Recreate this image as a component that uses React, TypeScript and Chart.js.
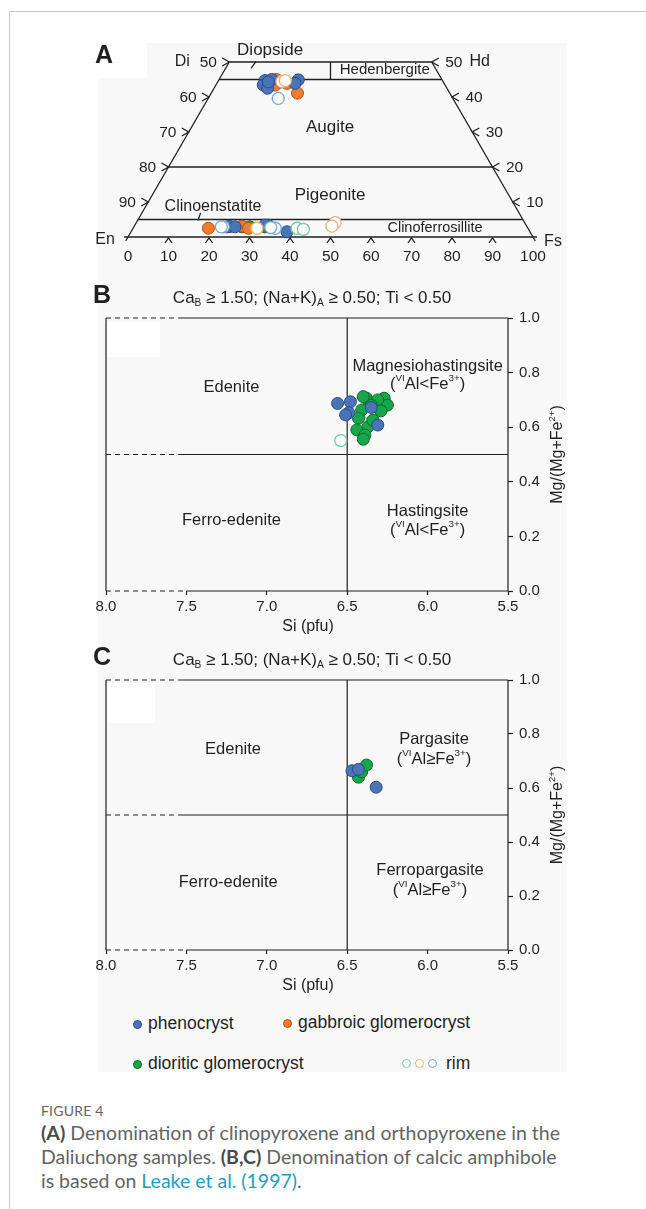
import React, { useEffect, useRef } from "react";
import { Chart, registerables } from "chart.js";

Chart.register(...registerables);

const FONT = "Arial, 'Liberation Sans', Helvetica, sans-serif";
const INK = "#1f1f1f";

// Sample groups: 0 phenocryst, 1 gabbroic glomerocryst, 2 dioritic glomerocryst
const GROUP_NAMES = ["phenocryst", "gabbroic glomerocryst", "dioritic glomerocryst"];
const GROUP_FILL = ["#4a74b8", "#ef7d2d", "#17a64a"];
const GROUP_EDGE = ["#2b4c85", "#a8531b", "#0b6a2b"];
const RIM_EDGE = ["#74a8da", "#f2ae76", "#72cb9e"];

// ---- (A) pyroxene compositions, Wo–En–Fs (mol%) ----
const pxPhenoWo = [44.7, 43.4, 42.5, 44.9, 43.9, 45.0, 44.3, 2.9, 3.0, 2.9, 3.4, 1.5];
const pxPhenoEn = [43.8, 44.9, 44.3, 35.5, 36.8, 42.0, 43.2, 74.1, 73.3, 72.1, 64.5, 60.0];
const pxPhenoFs = [11.5, 11.7, 13.2, 19.6, 19.3, 13.0, 12.5, 23.0, 23.7, 25.0, 32.1, 38.5];

const pxGabbroWo = [45.0, 43.4, 43.9, 41.1, 44.3, 2.5, 3.1, 2.5];
const pxGabbroEn = [40.8, 42.0, 38.8, 37.6, 40.0, 78.9, 70.3, 69.0];
const pxGabbroFs = [14.2, 14.6, 17.3, 21.3, 15.7, 18.6, 26.6, 28.5];

const pxDioriteWo = [43.9, 44.2, 2.9, 2.9, 2.9, 3.4];
const pxDioriteEn = [41.5, 40.8, 70.4, 68.5, 64.7, 63.7];
const pxDioriteFs = [14.6, 15.0, 26.7, 28.6, 32.4, 32.9];

const pxRimGroup = [1, 1, 0, 0, 0, 1, 0, 0, 2, 2, 1, 1];
const pxRimWo = [44.4, 44.7, 39.6, 2.9, 2.9, 2.5, 2.5, 2.7, 2.5, 2.2, 4.1, 3.1];
const pxRimEn = [39.8, 38.8, 43.1, 75.0, 75.5, 66.9, 62.4, 63.4, 57.0, 55.6, 46.8, 48.1];
const pxRimFs = [15.8, 16.5, 17.3, 22.1, 21.6, 30.6, 35.1, 33.9, 40.5, 42.2, 49.1, 48.8];

// quadrilateral field boundaries (Wo) and edge ticks
const PYX_BOUNDS = [45, 20, 5];
const PYX_SIDE_TICKS = [50, 40, 30, 20, 10];
const PYX_BASE_TICKS = [0, 10, 20, 30, 40, 50, 60, 70, 80, 90, 100];

// ---- (B) calcic amphibole, VIAl < Fe3+ : Si (pfu), Mg/(Mg+Fe2+) ----
const amB_PhenoSi = [6.56, 6.48, 6.49, 6.51, 6.31, 6.35];
const amB_PhenoMg = [0.687, 0.693, 0.653, 0.645, 0.608, 0.672];
const amB_DioriteSi = [6.38, 6.27, 6.25, 6.41, 6.43, 6.44, 6.37, 6.39, 6.34, 6.31, 6.40, 6.40, 6.35, 6.29];
const amB_DioriteMg = [0.706, 0.706, 0.681, 0.663, 0.633, 0.59, 0.602, 0.571, 0.626, 0.7, 0.712, 0.556, 0.68, 0.66];
const amB_RimGroup = [2, 2, 2, 2];
const amB_RimSi = [6.36, 6.3, 6.28, 6.54];
const amB_RimMg = [0.651, 0.669, 0.675, 0.551];

// ---- (C) calcic amphibole, VIAl ≥ Fe3+ ----
const amC_PhenoSi = [6.47, 6.43, 6.32];
const amC_PhenoMg = [0.664, 0.669, 0.603];
const amC_DioriteSi = [6.43, 6.41, 6.38];
const amC_DioriteMg = [0.64, 0.66, 0.685];

const SI_TICKS_STEP = 0.5;
const MG_TICKS_STEP = 0.2;
const MARK_R = 6;

type Seg = [string, "n" | "sub" | "sup"];
type FieldLabel = { at: [number, number]; segs: Seg[] };

const T = (s: string): Seg[] => [[s, "n"]];
const alLessFe: Seg[] = [["(", "n"], ["VI", "sup"], ["Al<Fe", "n"], ["3+", "sup"], [")", "n"]];
const alGeFe: Seg[] = [["(", "n"], ["VI", "sup"], ["Al≥Fe", "n"], ["3+", "sup"], [")", "n"]];
const criteria: Seg[] = [
  ["Ca", "n"], ["B", "sub"], [" ≥ 1.50; (Na+K)", "n"], ["A", "sub"], [" ≥ 0.50; Ti < 0.50", "n"],
];
const mgTitle: Seg[] = [["Mg/(Mg+Fe", "n"], ["2+", "sup"], [")", "n"]];

const B_FIELDS: FieldLabel[] = [
  { at: [7.22, 0.747], segs: T("Edenite") },
  { at: [6.0, 0.824], segs: T("Magnesiohastingsite") },
  { at: [6.0, 0.755], segs: alLessFe },
  { at: [7.22, 0.26], segs: T("Ferro-edenite") },
  { at: [6.0, 0.293], segs: T("Hastingsite") },
  { at: [6.0, 0.223], segs: alLessFe },
];
const C_FIELDS: FieldLabel[] = [
  { at: [7.21, 0.741], segs: T("Edenite") },
  { at: [5.96, 0.778], segs: T("Pargasite") },
  { at: [5.96, 0.704], segs: alGeFe },
  { at: [7.24, 0.252], segs: T("Ferro-edenite") },
  { at: [5.985, 0.296], segs: T("Ferropargasite") },
  { at: [5.985, 0.219], segs: alGeFe },
];

function setFont(ctx: CanvasRenderingContext2D, size: number, bold = false) {
  ctx.font = `${bold ? "bold " : ""}${size}px ${FONT}`;
}

function drawRich(ctx: CanvasRenderingContext2D, segs: Seg[], x: number, y: number, size: number, align: "center" | "left" = "center") {
  const small = size * 0.6;
  const parts = segs.map(([t, k]) => {
    const s = k === "n" ? size : small;
    setFont(ctx, s);
    return { t, k, s, w: ctx.measureText(t).width };
  });
  const total = parts.reduce((a, p) => a + p.w, 0);
  let cx = align === "center" ? x - total / 2 : x;
  ctx.textAlign = "left";
  ctx.textBaseline = "middle";
  for (const p of parts) {
    setFont(ctx, p.s);
    const dy = p.k === "sup" ? -size * 0.38 : p.k === "sub" ? size * 0.3 : 0;
    ctx.fillText(p.t, cx, y + dy);
    cx += p.w;
  }
}

function seg(ctx: CanvasRenderingContext2D, x1: number, y1: number, x2: number, y2: number, dash: number[] = []) {
  ctx.setLineDash(dash);
  ctx.beginPath();
  ctx.moveTo(x1, y1);
  ctx.lineTo(x2, y2);
  ctx.stroke();
}

function pyxPoints(wo: number[], en: number[], fs: number[]) {
  return wo.map((w, i) => {
    const sum = w + en[i] + fs[i];
    return { x: ((fs[i] + w / 2) / sum) * 100, y: (w / sum) * 100 };
  });
}
function xyPoints(xs: number[], ys: number[]) {
  return xs.map((x, i) => ({ x, y: ys[i] }));
}

function solidSet(data: any[], g: number, r: number) {
  return {
    data,
    pointRadius: r,
    pointHoverRadius: r,
    pointBackgroundColor: GROUP_FILL[g],
    pointBorderColor: GROUP_EDGE[g],
    pointBorderWidth: 1,
    showLine: false,
    clip: false as any,
  };
}
function rimSet(data: any[], groups: number[], r: number) {
  return {
    data,
    pointRadius: r,
    pointHoverRadius: r,
    pointBackgroundColor: "#ffffff",
    pointBorderColor: groups.map((g) => RIM_EDGE[g]),
    pointBorderWidth: 1.3,
    showLine: false,
    clip: false as any,
  };
}

// Pyroxene quadrilateral frame, ticks and field names
const pyxFrame = {
  id: "pyxFrame",
  beforeDatasetsDraw(chart: any) {
    const { ctx } = chart;
    const px = (v: number) => chart.scales.x.getPixelForValue(v);
    const py = (v: number) => chart.scales.y.getPixelForValue(v);
    ctx.save();
    ctx.strokeStyle = INK;
    ctx.fillStyle = INK;
    ctx.lineWidth = 1.3;

    // outline
    const slope = (px(25) - px(0)) / (py(0) - py(50));
    seg(ctx, px(0) - 4, py(0), px(100) + 4, py(0));
    seg(ctx, px(0) - 4 * slope, py(0) + 4, px(25), py(50));
    seg(ctx, px(100) + 4 * slope, py(0) + 4, px(75), py(50));
    seg(ctx, px(25), py(50), px(75), py(50));
    for (const w of PYX_BOUNDS) seg(ctx, px(w / 2), py(w), px(100 - w / 2), py(w));
    seg(ctx, px(50), py(45), px(50), py(50));

    // leader strokes for Diopside / Clinoenstatite
    const dx = px(31), dy = py(49.2);
    seg(ctx, dx - 2.5, dy + 3.5, dx + 2.5, dy - 3.5);
    const cx = px(17.6), cy = py(5.8);
    seg(ctx, cx - 1.3, cy + 3.8, cx + 1.3, cy - 3.8);

    // edge ticks
    for (const w of PYX_SIDE_TICKS) {
      const lx = px(w / 2), rx = px(100 - w / 2), y = py(w);
      ctx.setLineDash([]);
      ctx.beginPath();
      ctx.moveTo(lx - 7, y - 4); ctx.lineTo(lx, y); ctx.lineTo(lx - 7, y + 4);
      ctx.moveTo(rx + 7, y - 4); ctx.lineTo(rx, y); ctx.lineTo(rx + 7, y + 4);
      ctx.stroke();
      setFont(ctx, 15.5);
      ctx.textAlign = "center";
      ctx.textBaseline = "middle";
      ctx.fillText(String(100 - w), lx - 21, y + 1);
      ctx.fillText(String(w), rx + 22, y + 1);
    }
    for (const v of PYX_BASE_TICKS) {
      const x = px(v), y = py(0);
      if (v > 0 && v < 100) {
        ctx.beginPath();
        ctx.moveTo(x - 3.5, y + 6); ctx.lineTo(x, y + 1); ctx.lineTo(x + 3.5, y + 6);
        ctx.stroke();
      }
      setFont(ctx, 15.5);
      ctx.textAlign = "center";
      ctx.textBaseline = "middle";
      ctx.fillText(String(v), x, y + 20);
    }

    // corner names
    setFont(ctx, 16);
    ctx.textAlign = "center";
    ctx.fillText("Di", px(25) - 47, py(50));
    ctx.fillText("Hd", px(75) + 48, py(50));
    ctx.fillText("En", px(0) - 23, py(0) + 3);
    ctx.fillText("Fs", px(100) + 20, py(0) + 5);

    // field names
    setFont(ctx, 17);
    ctx.fillText("Diopside", px(35.1), py(53.4));
    ctx.fillText("Augite", px(49.9), py(31.4));
    ctx.fillText("Pigeonite", px(49.9), py(12));
    setFont(ctx, 16);
    ctx.fillText("Clinoenstatite", px(21), py(8.6));
    setFont(ctx, 15);
    ctx.fillText("Hedenbergite", px(63.4), py(47.7));
    setFont(ctx, 14.5);
    ctx.fillText("Clinoferrosillite", px(75.8), py(2.6));

    // panel letter
    setFont(ctx, 25, true);
    ctx.fillText("A", 104, 56);
    ctx.restore();
  },
};

function amphFrame(letter: string, fields: FieldLabel[]) {
  return {
    id: "amphFrame" + letter,
    beforeDatasetsDraw(chart: any) {
      const { ctx, chartArea: a } = chart;
      const X = (v: number) => chart.scales.x.getPixelForValue(v);
      const Y = (v: number) => chart.scales.y.getPixelForValue(v);
      ctx.save();
      ctx.strokeStyle = INK;
      ctx.fillStyle = INK;
      ctx.lineWidth = 1.2;
      const dash = [5, 4];
      seg(ctx, X(8), Y(1), X(7.55), Y(1), dash);
      seg(ctx, X(7.55), Y(1), X(5.5), Y(1));
      seg(ctx, X(8), Y(0.5), X(7.55), Y(0.5), dash);
      seg(ctx, X(7.55), Y(0.5), X(5.5), Y(0.5));
      seg(ctx, X(8), Y(0), X(7.5), Y(0), dash);
      seg(ctx, X(7.5), Y(0), X(5.5), Y(0));
      seg(ctx, X(8), Y(1), X(8), Y(0));
      seg(ctx, X(5.5), Y(1), X(5.5), Y(0));
      seg(ctx, X(6.5), Y(1), X(6.5), Y(0));
      ctx.setLineDash([]);

      for (const f of fields) drawRich(ctx, f.segs, X(f.at[0]), Y(f.at[1]), 16.5);

      drawRich(ctx, criteria, (a.left + a.right) / 2 + 5, a.top - 20, 17);

      setFont(ctx, 16);
      ctx.textAlign = "center";
      ctx.textBaseline = "middle";
      ctx.fillText("Si (pfu)", (a.left + a.right) / 2 + 1, a.bottom + 36);

      ctx.save();
      ctx.translate(a.right + 50, (a.top + a.bottom) / 2);
      ctx.rotate(-Math.PI / 2);
      drawRich(ctx, mgTitle, 0, 0, 16);
      ctx.restore();

      setFont(ctx, 25, true);
      ctx.textAlign = "center";
      ctx.textBaseline = "middle";
      ctx.fillText(letter, 102, a.top - 22);
      ctx.restore();
    },
  };
}

function amphOptions(padTop: number, padBottom: number) {
  const tickFont = { family: FONT, size: 15 };
  return {
    animation: false as const,
    responsive: false,
    maintainAspectRatio: false,
    events: [] as any[],
    layout: { autoPadding: false, padding: { left: 106, right: 88, top: padTop, bottom: padBottom } },
    plugins: { legend: { display: false }, tooltip: { enabled: false } },
    scales: {
      x: {
        type: "linear" as const,
        position: "bottom" as const,
        reverse: true,
        min: 5.5,
        max: 8.0,
        afterFit: (s: any) => { s.height = 30; },
        border: { display: false },
        grid: { drawOnChartArea: false, drawTicks: true, tickLength: 4, tickColor: INK, tickWidth: 1.2, color: INK },
        ticks: { stepSize: SI_TICKS_STEP, callback: (v: any) => Number(v).toFixed(1), font: tickFont, color: INK, padding: 3, maxRotation: 0, minRotation: 0, autoSkip: false },
      },
      y: {
        type: "linear" as const,
        position: "right" as const,
        min: 0,
        max: 1,
        afterFit: (s: any) => { s.width = 50; },
        border: { display: false },
        grid: { drawOnChartArea: false, drawTicks: true, tickLength: 5, tickColor: INK, tickWidth: 1.2, color: INK },
        ticks: { stepSize: MG_TICKS_STEP, callback: (v: any) => Number(v).toFixed(1), font: tickFont, color: INK, padding: 6, autoSkip: false },
      },
    },
  };
}

function PyroxeneChart() {
  const ref = useRef<HTMLCanvasElement>(null);
  useEffect(() => {
    const chart = new Chart(ref.current!, {
      type: "scatter",
      data: {
        datasets: [
          rimSet(pyxPoints(pxRimWo, pxRimEn, pxRimFs), pxRimGroup, MARK_R),
          solidSet(pyxPoints(pxPhenoWo, pxPhenoEn, pxPhenoFs), 0, MARK_R),
          solidSet(pyxPoints(pxGabbroWo, pxGabbroEn, pxGabbroFs), 1, MARK_R),
          solidSet(pyxPoints(pxDioriteWo, pxDioriteEn, pxDioriteFs), 2, MARK_R),
        ] as any,
      },
      options: {
        animation: false,
        responsive: false,
        maintainAspectRatio: false,
        events: [],
        layout: { autoPadding: false, padding: { left: 128, right: 113, top: 62, bottom: 38 } },
        plugins: { legend: { display: false }, tooltip: { enabled: false } },
        scales: {
          x: { type: "linear", min: 0, max: 100, display: false },
          y: { type: "linear", min: 0, max: 50, display: false },
        },
      } as any,
      plugins: [pyxFrame],
    });
    return () => chart.destroy();
  }, []);
  return <canvas ref={ref} width={646} height={275} style={{ position: "absolute", left: 0, top: 0, width: 646, height: 275 }} />;
}

function AmphiboleB() {
  const ref = useRef<HTMLCanvasElement>(null);
  useEffect(() => {
    const chart = new Chart(ref.current!, {
      type: "scatter",
      data: {
        datasets: [
          solidSet(xyPoints(amB_PhenoSi, amB_PhenoMg), 0, MARK_R),
          solidSet(xyPoints(amB_DioriteSi, amB_DioriteMg), 2, MARK_R),
          rimSet(xyPoints(amB_RimSi, amB_RimMg), amB_RimGroup, MARK_R),
        ] as any,
      },
      options: amphOptions(38, 19) as any,
      plugins: [amphFrame("B", B_FIELDS)],
    });
    return () => chart.destroy();
  }, []);
  return <canvas ref={ref} width={646} height={360} style={{ position: "absolute", left: 0, top: 280, width: 646, height: 360 }} />;
}

function AmphiboleC() {
  const ref = useRef<HTMLCanvasElement>(null);
  useEffect(() => {
    const chart = new Chart(ref.current!, {
      type: "scatter",
      data: {
        datasets: [
          solidSet(xyPoints(amC_PhenoSi, amC_PhenoMg), 0, MARK_R),
          solidSet(xyPoints(amC_DioriteSi, amC_DioriteMg), 2, MARK_R),
        ] as any,
      },
      options: amphOptions(40, 20) as any,
      plugins: [amphFrame("C", C_FIELDS)],
    });
    return () => chart.destroy();
  }, []);
  return <canvas ref={ref} width={646} height={360} style={{ position: "absolute", left: 0, top: 640, width: 646, height: 360 }} />;
}

function Dot({ x, y, fill, edge }: { x: number; y: number; fill: string; edge: string }) {
  return (
    <div
      style={{
        position: "absolute", left: x - 4.5, top: y - 4.5, width: 9, height: 9,
        boxSizing: "border-box", borderRadius: "50%", background: fill, border: `1px solid ${edge}`,
      }}
    />
  );
}

function LegendText({ x, y, text }: { x: number; y: number; text: string }) {
  return (
    <div style={{ position: "absolute", left: x, top: y - 11, height: 22, lineHeight: "22px", font: `17.5px ${FONT}`, color: INK, whiteSpace: "nowrap" }}>
      {text}
    </div>
  );
}

export default function App() {
  const abs = (l: number, t: number, w: number, h: number, bg: string): React.CSSProperties => ({
    position: "absolute", left: l, top: t, width: w, height: h, background: bg,
  });
  return (
    <div style={{ position: "absolute", left: 0, top: 0, width: 646, height: 1209, background: "#fff", overflow: "hidden" }}>
      <div style={abs(9, 11, 637, 1, "#c9c9c9")} />
      <div style={abs(9, 11, 1, 1198, "#c9c9c9")} />
      <div style={abs(98, 43, 469, 1029, "#f8f8f8")} />
      <div style={abs(98, 43, 49, 35, "#ffffff")} />
      <div style={abs(107, 322, 53, 35, "#ffffff")} />
      <div style={abs(108, 683, 47, 40, "#ffffff")} />

      <PyroxeneChart />
      <AmphiboleB />
      <AmphiboleC />

      <Dot x={137} y={1024} fill={GROUP_FILL[0]} edge={GROUP_EDGE[0]} />
      <LegendText x={148} y={1024} text={GROUP_NAMES[0]} />
      <Dot x={287} y={1023} fill={GROUP_FILL[1]} edge={GROUP_EDGE[1]} />
      <LegendText x={298} y={1023} text={GROUP_NAMES[1]} />
      <Dot x={137} y={1064} fill={GROUP_FILL[2]} edge={GROUP_EDGE[2]} />
      <LegendText x={148} y={1064} text={GROUP_NAMES[2]} />
      <Dot x={406} y={1063} fill="#fff" edge={RIM_EDGE[2]} />
      <Dot x={419} y={1063} fill="#fff" edge={RIM_EDGE[1]} />
      <Dot x={432} y={1063} fill="#fff" edge={RIM_EDGE[0]} />
      <LegendText x={446} y={1064} text="rim" />

      <div style={{ position: "absolute", left: 41, top: 1101, width: 600, fontFamily: "Lato, 'Open Sans', sans-serif", color: "#636363", whiteSpace: "nowrap" }}>
        <div style={{ fontSize: 14, lineHeight: "20px", letterSpacing: 0.2 }}>FIGURE 4</div>
        <div style={{ fontSize: 19.5, lineHeight: "24px" }}>
          <b style={{ color: "#4a4a4a" }}>(A)</b> Denomination of clinopyroxene and orthopyroxene in the
          <br />
          Daliuchong samples. <b style={{ color: "#4a4a4a" }}>(B,C)</b> Denomination of calcic amphibole
          <br />
          is based on <span style={{ color: "#1a9fc6" }}>Leake et al. (1997)</span>.
        </div>
      </div>
    </div>
  );
}
